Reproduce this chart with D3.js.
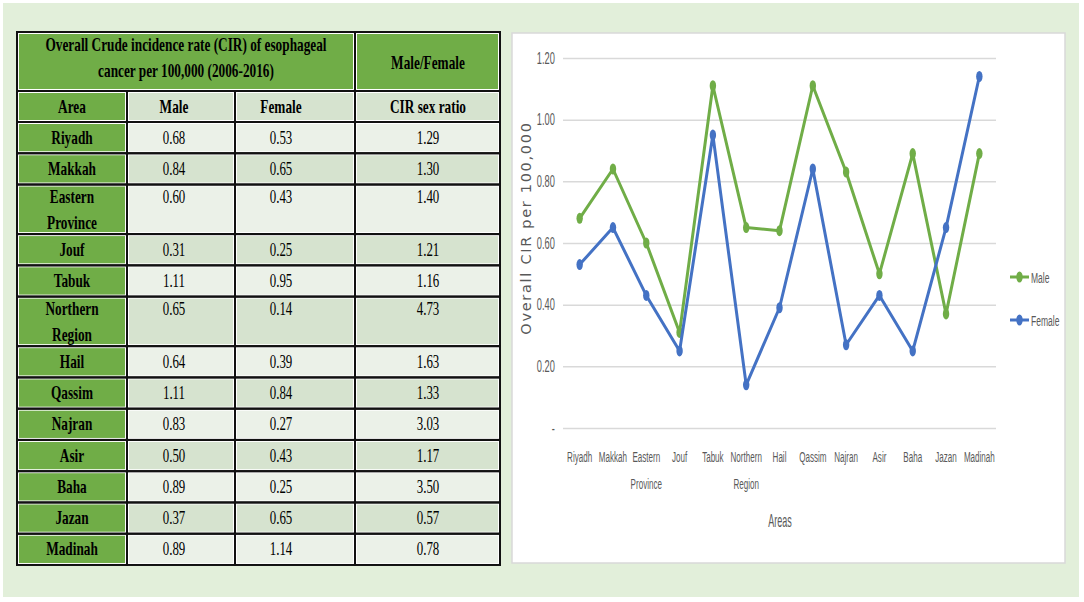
<!DOCTYPE html>
<html>
<head>
<meta charset="utf-8">
<script src="https://cdn.jsdelivr.net/npm/d3@7"></script>
<style>
  body { margin: 0; background: #fff; }
  svg { display: block; }
</style>
</head>
<body>
<div id="figure"></div>
<script>
// data
var areas = ["Riyadh", "Makkah", "Eastern Province", "Jouf", "Tabuk", "Northern Region",
             "Hail", "Qassim", "Najran", "Asir", "Baha", "Jazan", "Madinah"];
var male   = [0.68, 0.84, 0.60, 0.31, 1.11, 0.65, 0.64, 1.11, 0.83, 0.50, 0.89, 0.37, 0.89];
var female = [0.53, 0.65, 0.43, 0.25, 0.95, 0.14, 0.39, 0.84, 0.27, 0.43, 0.25, 0.65, 1.14];
var ratio  = [1.29, 1.30, 1.40, 1.21, 1.16, 4.73, 1.63, 1.33, 3.03, 1.17, 3.50, 0.57, 0.78];
var titleLines = ["Overall Crude incidence rate (CIR) of esophageal", "cancer per 100,000 (2006-2016)"];
var colHeads = ["Area", "Male", "Female", "CIR sex ratio"];
var yTicks = [0, 0.2, 0.4, 0.6, 0.8, 1.0, 1.2];
var seriesNames = ["Male", "Female"];

var W = 1084, H = 602;
var green = "#70ad47", blue = "#4472c4";
var cellLight = "#ebf1e8", cellDark = "#d6e3cf";
var grey = "#595959";

var svg = d3.select("#figure").append("svg")
    .attr("width", W)
    .attr("height", H);

svg.append("rect")
    .attr("x", 3).attr("y", 3)
    .attr("width", 1076).attr("height", 594)
    .style("fill", "#e2efda");

// squeezed text helper (the source picture is narrowed)
function sText(parent, x, y, str, size, sx, opts) {
  opts = opts || {};
  var g = parent.append("g")
      .attr("transform", "translate(" + x + "," + y + ") scale(" + sx + ",1)");
  return g.append("text")
      .attr("text-anchor", opts.anchor || "middle")
      .style("font-family", opts.family || "'Liberation Serif', 'Times New Roman', serif")
      .style("font-weight", opts.weight || "normal")
      .style("font-size", size + "px")
      .style("fill", opts.fill || "#000")
      .text(str);
}

// ---------- table ----------
var table = svg.append("g");
var colX = [17, 127, 235, 355, 500];
var textX = [72, 174, 281, 428];
var tTop = 32, h1 = 59, h2 = 31;
var normalH = 31.26, tallH = 49.56;

var rows = areas.map(function(a, i) {
  var lines = a.split(" ");
  return {area: a, lines: lines, h: lines.length > 1 ? tallH : normalH,
          vals: [male[i].toFixed(2), female[i].toFixed(2), ratio[i].toFixed(2)]};
});
var yy = tTop + h1 + h2;
rows.forEach(function(r) { r.y = yy; yy += r.h; });

function cell(x0, x1, y0, h, fill) {
  table.append("rect")
      .attr("x", x0 + 2).attr("y", y0 + 2)
      .attr("width", x1 - x0 - 4).attr("height", h - 4)
      .style("fill", fill);
  table.append("rect")
      .attr("x", x0).attr("y", y0)
      .attr("width", x1 - x0).attr("height", h)
      .style("fill", "none")
      .style("stroke", "#111")
      .style("stroke-width", 2);
}

table.append("rect")
    .attr("x", colX[0]).attr("y", tTop)
    .attr("width", colX[4] - colX[0]).attr("height", yy - tTop)
    .style("fill", "#fff");

// header row 1
cell(colX[0], colX[3], tTop, h1, green);
cell(colX[3], colX[4], tTop, h1, green);
titleLines.forEach(function(t, i) {
  sText(table, (colX[0] + colX[3]) / 2, tTop + 18.5 + i * 26, t, 19, 0.7, {weight: "bold"});
});
sText(table, textX[3], tTop + 36.5, "Male/Female", 19, 0.7, {weight: "bold"});

// header row 2
var y2 = tTop + h1;
colHeads.forEach(function(c, j) {
  cell(colX[j], colX[j + 1], y2, h2, j === 0 ? green : cellDark);
  sText(table, textX[j], y2 + h2 / 2 + 6, c, 19, 0.7, {weight: "bold"});
});

// data rows
rows.forEach(function(r, i) {
  var fill = i % 2 === 0 ? cellLight : cellDark;
  cell(colX[0], colX[1], r.y, r.h, green);
  var base = r.lines.length > 1 ? r.y + 18.5 : r.y + r.h / 2 + 6;
  r.lines.forEach(function(l, k) {
    sText(table, textX[0], base + k * 26, l, 19, 0.7, {weight: "bold"});
  });
  r.vals.forEach(function(v, j) {
    cell(colX[j + 1], colX[j + 2], r.y, r.h, fill);
    sText(table, textX[j + 1], base, v, 19, 0.68);
  });
});

// ---------- line chart ----------
svg.append("rect")
    .attr("x", 512).attr("y", 33)
    .attr("width", 553).attr("height", 530)
    .style("fill", "#fff")
    .style("stroke", "#d9d9d9")
    .style("stroke-width", 1.5);

var chart = svg.append("g");
var sans = "'Liberation Sans', Arial, sans-serif";

var x = d3.scaleBand()
    .domain(areas)
    .range([563, 996]);

var y = d3.scaleLinear()
    .domain([0, 1.2])
    .range([428, 58]);

var yAxis = chart.append("g")
    .attr("transform", "translate(563,0)")
    .call(d3.axisLeft(y)
      .tickValues(yTicks)
      .tickSize(-(996 - 563))
      .tickPadding(14)
      .tickFormat(function(d) { return d === 0 ? "-" : d.toFixed(2); }));
yAxis.select(".domain").remove();
yAxis.selectAll(".tick line")
    .style("stroke", "#d9d9d9")
    .style("stroke-width", 1.5);
yAxis.selectAll(".tick text")
    .attr("transform", "scale(0.58,1)")
    .style("font-family", sans)
    .style("font-size", "16px")
    .style("fill", grey);

// x labels
areas.forEach(function(a) {
  var cx = x(a) + x.bandwidth() / 2;
  a.split(" ").forEach(function(l, k) {
    sText(chart, cx, 462 + k * 26.5, l, 15.5, 0.52, {family: sans, fill: grey});
  });
});

sText(chart, 780, 527, "Areas", 18, 0.5, {family: sans, fill: grey});

chart.append("text")
    .attr("transform", "translate(531,228) rotate(-90)")
    .attr("text-anchor", "middle")
    .style("font-family", "'DejaVu Sans', sans-serif")
    .style("font-size", "14.5px")
    .style("letter-spacing", "1.7px")
    .style("fill", grey)
    .text("Overall CIR per 100,000");

var line = d3.line()
    .x(function(d) { return x(d.area) + x.bandwidth() / 2; })
    .y(function(d) { return y(d.v); });

var series = [
  {name: seriesNames[0], color: green, vals: male},
  {name: seriesNames[1], color: blue, vals: female}
];

series.forEach(function(s, si) {
  var pts = areas.map(function(a, i) { return {area: a, v: s.vals[i]}; });
  chart.append("path")
      .datum(pts)
      .attr("d", line)
      .style("fill", "none")
      .style("stroke", s.color)
      .style("stroke-width", 3)
      .style("stroke-linejoin", "round");
  chart.selectAll(".m" + si)
      .data(pts)
      .enter().append("ellipse")
      .attr("cx", function(d) { return x(d.area) + x.bandwidth() / 2; })
      .attr("cy", function(d) { return y(d.v); })
      .attr("rx", 3.2)
      .attr("ry", 5.5)
      .style("fill", s.color);

  // legend
  var ly = 277 + si * 43;
  chart.append("line")
      .attr("x1", 1010).attr("x2", 1029)
      .attr("y1", ly).attr("y2", ly)
      .style("stroke", s.color)
      .style("stroke-width", 3);
  chart.append("ellipse")
      .attr("cx", 1019.5).attr("cy", ly)
      .attr("rx", 3.2).attr("ry", 5.5)
      .style("fill", s.color);
  sText(chart, 1031, ly + 5.5, s.name, 15.5, 0.55, {family: sans, fill: grey, anchor: "start"});
});
</script>
</body>
</html>
